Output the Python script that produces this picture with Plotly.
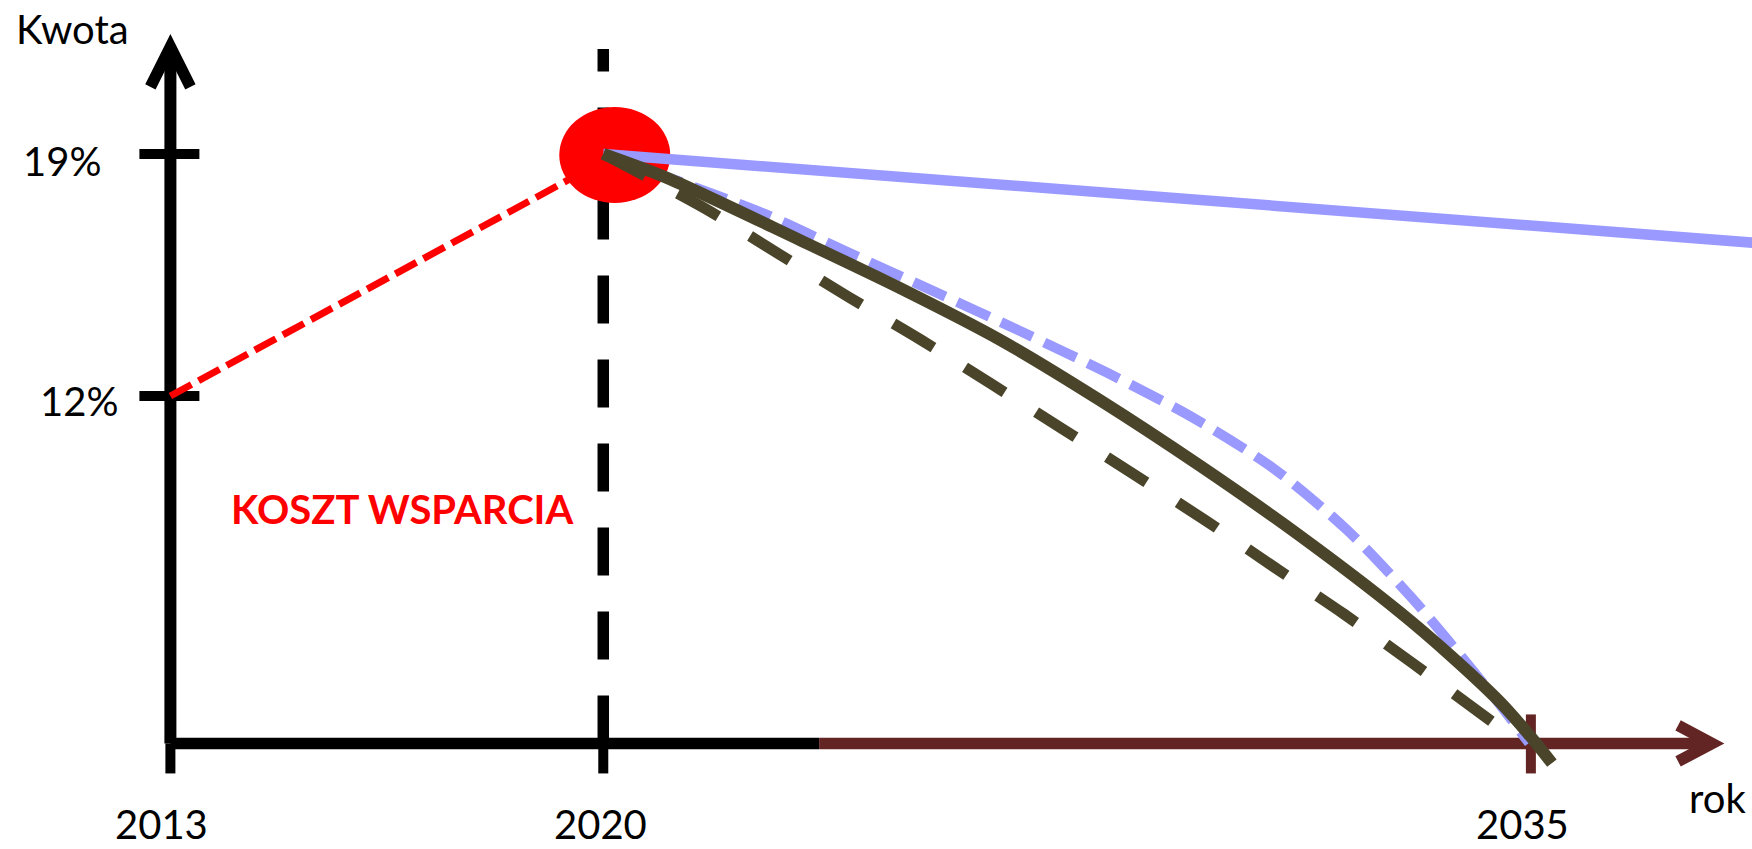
import plotly.graph_objects as go

# ---------------- data ----------------
X_TICK_YEARS = [2013, 2020, 2035]
X_TICK_LABELS = ["2013", "2020", "2035"]
Y_TICK_VALUES = [12, 19]
Y_TICK_LABELS = ["12%", "19%"]
X_TITLE = "rok"
Y_TITLE = "Kwota"
NOTE_TEXT = "KOSZT WSPARCIA"

BASE = 1.95            # value where the horizontal axis runs
PEAK_YEAR = 2020
PEAK_VALUE = 19

RED_YEARS = [2013, 2020]
RED_VALUES = [12, 18.8]

BLUE_SOLID_YEARS = [2020, 2035, 2040]
BLUE_SOLID_VALUES = [19, 16.93, 16.24]

BLUE_DASH_YEARS = [2020, 2022.62, 2023.94, 2025.33, 2026.74, 2028.15, 2029.52,
                   2030.85, 2032.03, 2033.09, 2034.08, 2034.53, 2034.97]
BLUE_DASH_VALUES = [19, 17.26, 16.17, 15.04, 13.88, 12.67, 11.39,
                    9.89, 8.12, 6.13, 4.02, 3.00, 1.96]

OLIVE_SOLID_YEARS = [2020, 2021.03, 2023.18, 2024.80, 2026.42, 2028.03, 2029.65,
                     2031.27, 2032.88, 2033.69, 2034.50, 2035.00, 2035.34]
OLIVE_SOLID_VALUES = [19, 18.31, 16.51, 15.12, 13.62, 11.88, 9.98,
                      7.95, 5.75, 4.51, 3.15, 2.14, 1.38]

OLIVE_DASH_YEARS = [2020, 2021.66, 2022.81, 2023.97, 2025.14, 2026.30, 2027.45,
                    2028.60, 2029.73, 2030.85, 2031.98, 2033.08, 2034.18, 2034.85]
OLIVE_DASH_VALUES = [19, 17.41, 16.14, 14.86, 13.62, 12.32, 11.02,
                     9.71, 8.41, 7.05, 5.69, 4.28, 2.83, 1.95]

# axis geometry (in data units)
Y_AXIS_TOP = 22.1
V_LINE_TOP = 22.04
X_SPLIT = 2023.49       # where the x axis turns from black to brown
X_AXIS_END = 2037.93

# ---------------- layout scale ----------------
W, H = 1752, 849
PX_PER_YEAR = 61.84
PX_PER_PCT = 34.571
X_ORIGIN_PX = 170.4     # pixel of year 2013
Y19_PX = 154.0          # pixel of 19 %

X0 = 2013 - X_ORIGIN_PX / PX_PER_YEAR
X1 = X0 + W / PX_PER_YEAR
Y1 = 19 + Y19_PX / PX_PER_PCT
Y0 = Y1 - H / PX_PER_PCT

BLACK = "#000000"
BROWN = "#632523"
RED = "#FF0000"
BLUE = "#9999FF"
OLIVE = "#4A452A"
FONT = "Lato, 'Open Sans', sans-serif"

fig = go.Figure()

fig.add_trace(go.Scatter(x=RED_YEARS, y=RED_VALUES, mode="lines",
                         line=dict(color=RED, width=7, dash="24px,8px")))
fig.add_trace(go.Scatter(x=BLUE_SOLID_YEARS, y=BLUE_SOLID_VALUES, mode="lines",
                         line=dict(color=BLUE, width=10.5)))
fig.add_trace(go.Scatter(x=BLUE_DASH_YEARS, y=BLUE_DASH_VALUES, mode="lines",
                         line=dict(color=BLUE, width=10, dash="35px,13px",
                                   shape="spline", smoothing=0.8)))
fig.add_trace(go.Scatter(x=OLIVE_DASH_YEARS, y=OLIVE_DASH_VALUES, mode="lines",
                         line=dict(color=OLIVE, width=11, dash="47px,37px",
                                   shape="spline", smoothing=0.8)))
fig.add_trace(go.Scatter(x=OLIVE_SOLID_YEARS, y=OLIVE_SOLID_VALUES, mode="lines",
                         line=dict(color=OLIVE, width=12, shape="spline", smoothing=0.8)))

shapes = []
# y axis
shapes.append(dict(type="line", xref="x", yref="y", x0=2013, x1=2013, y0=BASE, y1=Y_AXIS_TOP,
                   line=dict(color=BLACK, width=12), layer="below"))
shapes.append(dict(type="path", xref="x", yref="y", xsizemode="pixel", ysizemode="pixel",
                   xanchor=2013, yanchor=Y_AXIS_TOP, path="M -20,-40 L 0,0 L 20,-40",
                   line=dict(color=BLACK, width=11.5), fillcolor="rgba(0,0,0,0)", layer="below"))
# y ticks
for v in Y_TICK_VALUES:
    shapes.append(dict(type="line", xref="x", yref="y", xsizemode="pixel", xanchor=2013,
                       x0=-31, x1=29, y0=v, y1=v, line=dict(color=BLACK, width=10), layer="below"))
# x axis (black then brown)
shapes.append(dict(type="line", xref="x", yref="y", x0=2013, x1=X_SPLIT, y0=BASE, y1=BASE,
                   line=dict(color=BLACK, width=11.5), layer="below"))
shapes.append(dict(type="line", xref="x", yref="y", x0=X_SPLIT, x1=X_AXIS_END, y0=BASE, y1=BASE,
                   line=dict(color=BROWN, width=11.5), layer="below"))
shapes.append(dict(type="path", xref="x", yref="y", xsizemode="pixel", ysizemode="pixel",
                   xanchor=X_AXIS_END, yanchor=BASE, path="M -34,18 L 0,0 L -34,-18",
                   line=dict(color=BROWN, width=11.5), fillcolor="rgba(0,0,0,0)", layer="below"))
# x ticks
for yr in X_TICK_YEARS:
    col = BROWN if yr > X_SPLIT else BLACK
    top = 29 if yr > X_SPLIT else 0
    shapes.append(dict(type="line", xref="x", yref="y", ysizemode="pixel", yanchor=BASE,
                       x0=yr, x1=yr, y0=top, y1=-30, line=dict(color=col, width=10), layer="below"))
# vertical dashed line at 2020
shapes.append(dict(type="line", xref="x", yref="y", x0=PEAK_YEAR, x1=PEAK_YEAR, y0=BASE, y1=V_LINE_TOP,
                   line=dict(color=BLACK, width=11.5, dash="48px,36px"), layer="below"))
# red ellipse at the peak
shapes.append(dict(type="circle", xref="x", yref="y", xsizemode="pixel", ysizemode="pixel",
                   xanchor=PEAK_YEAR, yanchor=PEAK_VALUE, x0=-44, x1=67, y0=-49, y1=47,
                   fillcolor=RED, line=dict(width=0), layer="below"))


def ann(text, px, py, size=40, color=BLACK, bold=False):
    return dict(text=f"<b>{text}</b>" if bold else text, xref="paper", yref="paper",
                x=px / W, y=1 - py / H, xanchor="center", yanchor="middle", showarrow=False,
                font=dict(family=FONT, size=size, color=color))


annotations = [
    ann(Y_TITLE, 72, 29),
    ann(Y_TICK_LABELS[1], 62, 161),
    ann(Y_TICK_LABELS[0], 79, 401),
    ann(X_TICK_LABELS[0], 161, 824),
    ann(X_TICK_LABELS[1], 600, 824),
    ann(X_TICK_LABELS[2], 1522, 824),
    ann(X_TITLE, 1717, 798),
    ann(NOTE_TEXT, 402, 509, size=40, color=RED, bold=True),
]

fig.update_layout(
    width=W, height=H, margin=dict(l=0, r=0, t=0, b=0),
    paper_bgcolor="white", plot_bgcolor="white", showlegend=False, hovermode=False,
    xaxis=dict(range=[X0, X1], visible=False, fixedrange=True),
    yaxis=dict(range=[Y0, Y1], visible=False, fixedrange=True),
    shapes=shapes, annotations=annotations,
)

fig.write_html("out.html", config={"displayModeBar": False},
               post_script="document.body.style.margin='0';document.body.style.overflow='hidden';")
